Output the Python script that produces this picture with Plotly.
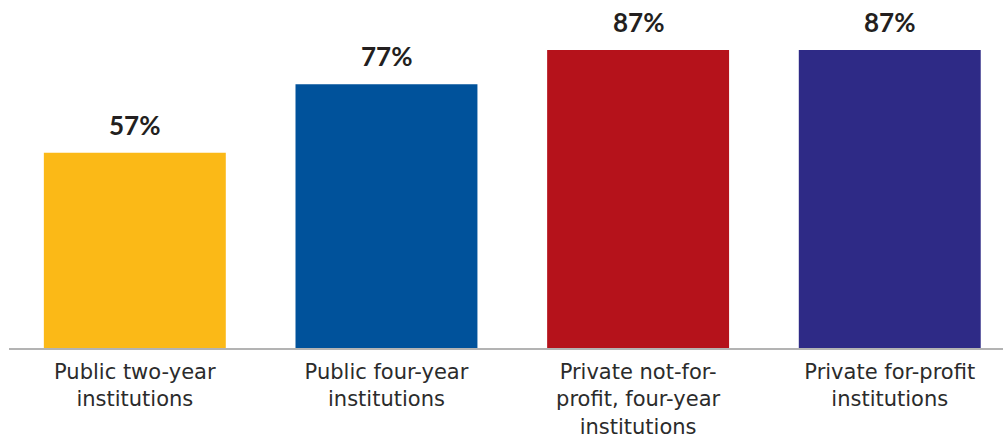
import plotly.graph_objects as go

categories = [
    "Public two-year<br>institutions",
    "Public four-year<br>institutions",
    "Private not-for-<br>profit, four-year<br>institutions",
    "Private for-profit<br>institutions",
]
values = [57, 77, 87, 87]
value_labels = ["57%", "77%", "87%", "87%"]
colors = ["#FBB917", "#00529B", "#B5121B", "#2E2A86"]

fig = go.Figure(
    go.Bar(
        x=categories,
        y=values,
        marker=dict(color=colors, line=dict(width=0)),
        width=0.723,
        hoverinfo="skip",
    )
)

# bold value labels above each bar
for cat, v, lab in zip(categories, values, value_labels):
    fig.add_annotation(
        x=cat, y=v, text=f"<b>{lab}</b>", showarrow=False,
        yanchor="bottom", yshift=10,
        font=dict(family="Lato", size=26, color="#231F20"),
    )

fig.update_layout(
    width=1003, height=438,
    margin=dict(l=9, r=0, t=0, b=90),
    paper_bgcolor="white", plot_bgcolor="white",
    showlegend=False,
)
fig.update_xaxes(
    range=[-0.5, 3.45],
    showline=True, linecolor="#B3B3B3", linewidth=1.5,
    ticks="", showgrid=False, zeroline=False,
    tickfont=dict(family="DejaVu Sans", size=21, color="#2B2B2B"),
    ticklabelstandoff=4,
)
fig.update_yaxes(
    range=[0, 101.6], visible=False, showgrid=False, zeroline=False,
)

fig.write_html("out.html")
